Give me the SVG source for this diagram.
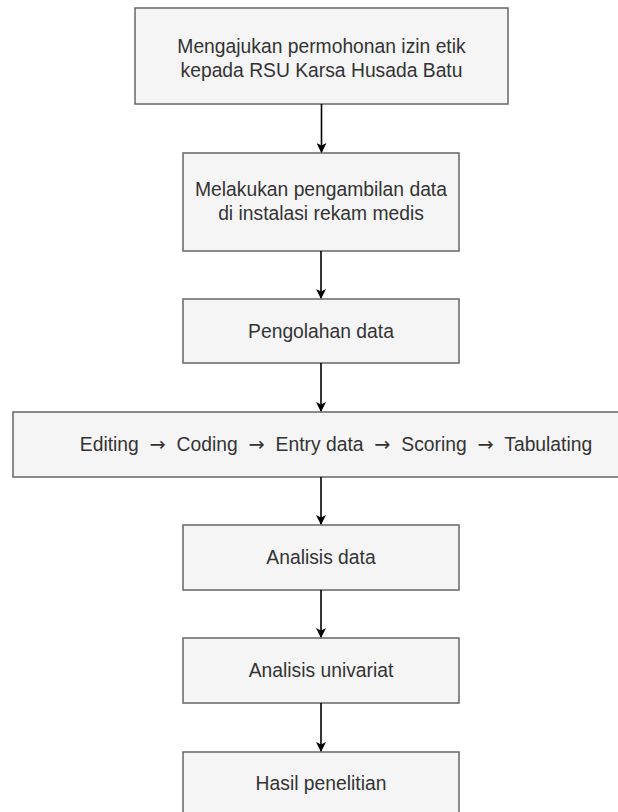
<svg xmlns="http://www.w3.org/2000/svg" width="618" height="812" viewBox="0 0 618 812">
<style>
.box{fill:#f5f5f5;stroke:#666666;stroke-width:1.5}
.t{font-family:"Liberation Sans",Arial,sans-serif;font-size:19.3px;fill:#333333;text-anchor:middle}
.ar{font-family:"DejaVu Sans",sans-serif}
.ws{word-spacing:5.5px}
.nw{word-spacing:0px}
.c{stroke:#000000;stroke-width:1.6;fill:none}
</style>
<defs>
<marker id="ah" markerWidth="10" markerHeight="10" refX="9" refY="5" orient="auto" markerUnits="userSpaceOnUse">
<path d="M0,0 L10,5 L0,10 L2.5,5 Z" fill="#000"/>
</marker>
</defs>
<rect width="618" height="812" fill="#ffffff"/>
<g id="n1"><rect class="box" x="135" y="8" width="373" height="96"/>
<text class="t" x="321.5" y="53">Mengajukan permohonan izin etik</text>
<text class="t" x="321.5" y="77">kepada RSU Karsa Husada Batu</text></g>
<g id="n2"><rect class="box" x="183" y="153" width="276" height="98"/>
<text class="t" x="321" y="196">Melakukan pengambilan data</text>
<text class="t" x="321" y="220">di instalasi rekam medis</text></g>
<g id="n3"><rect class="box" x="183" y="299" width="276" height="64"/>
<text class="t" x="321" y="338">Pengolahan data</text></g>
<g id="n4"><rect class="box" x="13" y="412" width="646" height="65"/>
<text class="t ws" x="336" y="451">Editing <tspan class="ar">→</tspan> Coding <tspan class="ar">→</tspan> <tspan class="nw">Entry data</tspan> <tspan class="ar">→</tspan> Scoring <tspan class="ar">→</tspan> Tabulating</text></g>
<g id="n5"><rect class="box" x="183" y="525" width="276" height="65"/>
<text class="t" x="321" y="564">Analisis data</text></g>
<g id="n6"><rect class="box" x="183" y="638" width="276" height="65"/>
<text class="t" x="321" y="677">Analisis univariat</text></g>
<g id="n7"><rect class="box" x="183" y="752" width="276" height="64"/>
<text class="t" x="321" y="790">Hasil penelitian</text></g>
<g id="connectors">
<line class="c" x1="321.5" y1="104" x2="321.5" y2="152" marker-end="url(#ah)"/>
<line class="c" x1="321" y1="251" x2="321" y2="298" marker-end="url(#ah)"/>
<line class="c" x1="321" y1="363" x2="321" y2="411" marker-end="url(#ah)"/>
<line class="c" x1="321" y1="477" x2="321" y2="524" marker-end="url(#ah)"/>
<line class="c" x1="321" y1="590" x2="321" y2="637" marker-end="url(#ah)"/>
<line class="c" x1="321" y1="703" x2="321" y2="751" marker-end="url(#ah)"/>
</g>
</svg>
